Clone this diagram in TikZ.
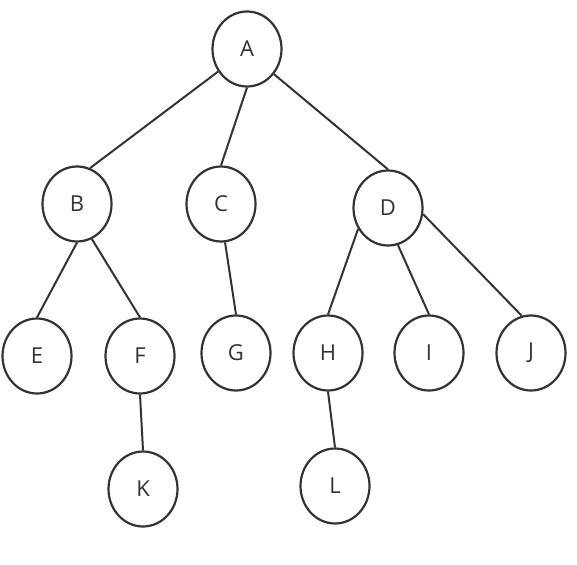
\documentclass[tikz,border=0pt]{standalone}
\usepackage{fontspec}
\setmainfont{Open Sans}
\usetikzlibrary{shapes.geometric}
\definecolor{ink}{HTML}{333333}
\begin{document}
\begin{tikzpicture}[x=1pt,y=-1pt,
  tn/.style={draw=ink,line width=2.2pt,ellipse,minimum width=69pt,minimum height=75pt,inner sep=0pt,font=\fontsize{22}{26}\selectfont,text=ink},
  edge/.style={draw=ink,line width=2pt}]
\useasboundingbox (0,0) rectangle (577,564);
\node[tn] (A) at (247,49) {A};
\node[tn] (B) at (77,204) {B};
\node[tn] (C) at (221,204) {C};
\node[tn] (D) at (388,208) {D};
\node[tn] (E) at (37,356) {E};
\node[tn] (F) at (140,356) {F};
\node[tn] (G) at (236,353) {G};
\node[tn] (H) at (328,353) {H};
\node[tn] (I) at (429,353) {I};
\node[tn] (J) at (531,353) {J};
\node[tn] (K) at (143,489) {K};
\node[tn] (L) at (335,486) {L};
\draw[edge] (A.218) -- (B.70);
\draw[edge] (A.270) -- (C.90);
\draw[edge] (A.317) -- (D.90);
\draw[edge] (B.270) -- (E.90);
\draw[edge] (B.293) -- (F.90);
\draw[edge] (C.276) -- (G.90);
\draw[edge] (D.215) -- (H.90);
\draw[edge] (D.285) -- (I.90);
\draw[edge] (D.350) -- (J.104);
\draw[edge] (F.270) -- (K.90);
\draw[edge] (H.270) -- (L.90);
\end{tikzpicture}
\end{document}
